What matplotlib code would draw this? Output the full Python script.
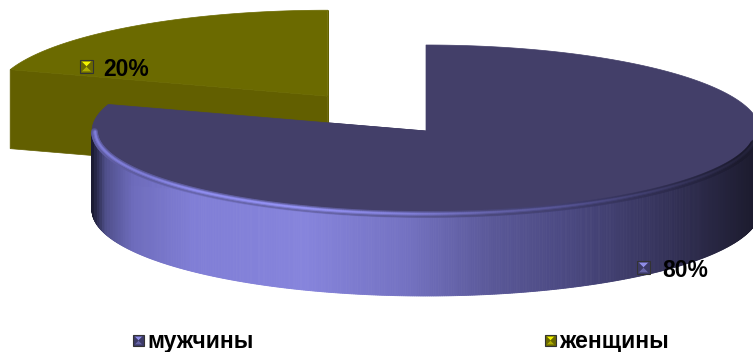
import numpy as np
import matplotlib
matplotlib.use("Agg")
import matplotlib.pyplot as plt
from matplotlib.patches import Polygon
from matplotlib.collections import LineCollection
from matplotlib.colors import LinearSegmentedColormap, to_rgb

# ---- data ----
categories = ["мужчины", "женщины"]
values = [80, 20]
pct_labels = ["80%", "20%"]
explode = [0.0, 0.5]

# ---- style ----
top_colors = ["#433f69", "#6b6a00"]
side_colors = ["#3a375c", "#625f00"]
marker_light = ["#8f8de6", "#f2f200"]
marker_dark = ["#3c3a66", "#6a6800"]

wall_cmap = LinearSegmentedColormap.from_list("wall", [
    (0.00, "#1c1c34"), (0.02, "#50508c"), (0.06, "#6e6cbc"),
    (0.15, "#807ed6"), (0.32, "#8684dc"), (0.47, "#7472c2"),
    (0.60, "#5a5898"), (0.72, "#4a4880"), (0.86, "#35335a"),
    (1.00, "#1b1a2c")])

FONT = "Liberation Sans"

W, H = 753, 352
fig = plt.figure(figsize=(W / 100, H / 100), dpi=100)
ax = fig.add_axes([0, 0, 1, 1])
ax.set_xlim(0, W)
ax.set_ylim(H, 0)
ax.axis("off")

cx, cy = 426.0, 131.0
a, b, h = 334.0, 86.0, 79.0

total = float(sum(values))
fracs = [v / total for v in values]
starts = np.concatenate([[0], np.cumsum(fracs)[:-1]])


def rim(t, ox, oy, dz=0.0):
    return ox + a * np.cos(t), oy - b * np.sin(t) + dz


slices = []
for i, f in enumerate(fracs):
    t1 = np.deg2rad(90 - 360 * starts[i])
    t2 = np.deg2rad(90 - 360 * (starts[i] + f))
    tm = 0.5 * (t1 + t2)
    ox = cx + explode[i] * a * np.cos(tm)
    oy = cy - explode[i] * b * np.sin(tm)
    slices.append((i, t1, t2, ox, oy))

order = sorted(range(len(slices)), key=lambda k: -explode[k])
for k in order:
    i, t1, t2, ox, oy = slices[k]
    for t in (t1, t2):
        rx, ry = rim(t, ox, oy)
        ax.add_patch(Polygon([(ox, oy), (rx, ry), (rx, ry + h), (ox, oy + h)],
                             closed=True, facecolor=side_colors[i],
                             edgecolor=side_colors[i], lw=0.5, zorder=1 + k))
    ts = np.linspace(t2, t1, 900)
    front = ts[np.sin(ts) < 0]
    if len(front) > 1:
        for j in range(len(front) - 1):
            ta, tb = front[j], front[j + 1]
            xa, ya = rim(ta, ox, oy)
            xb, yb = rim(tb, ox, oy)
            u = (0.5 * (xa + xb) - (ox - a)) / (2 * a)
            c = wall_cmap(u) if i == 0 else side_colors[i]
            ax.add_patch(Polygon([(xa, ya), (xb, yb), (xb, yb + h), (xa, ya + h)],
                                 closed=True, facecolor=c, edgecolor=c,
                                 lw=0.6, zorder=2 + k))
    tt = np.linspace(t1, t2, 600)
    xs, ys = rim(tt, ox, oy)
    pts = [(ox, oy)] + list(zip(xs, ys))
    ax.add_patch(Polygon(pts, closed=True, facecolor=top_colors[i],
                         edgecolor=top_colors[i], lw=0.5, zorder=3 + k))
    # bevel highlight along the front rim
    if i == 0 and len(front) > 1:
        for inset, lw, al, boost in [(2.5, 5.0, 0.35, 0.85), (3.0, 2.4, 0.6, 1.0),
                                     (3.2, 1.1, 0.95, 1.12)]:
            fx = ox + (a - inset) * np.cos(front)
            fy = oy - (b - inset) * np.sin(front)
            segs = [[(fx[j], fy[j]), (fx[j + 1], fy[j + 1])] for j in range(len(fx) - 1)]
            cols = []
            for j in range(len(fx) - 1):
                u = (fx[j] - (ox - a)) / (2 * a)
                r, g, bb, _ = wall_cmap(min(max(u, 0.08), 0.97))
                cols.append((min(1, r * boost), min(1, g * boost), min(1, bb * boost), al))
            ax.add_collection(LineCollection(segs, colors=cols, linewidths=lw,
                                             zorder=4 + k, capstyle="round"))


def bevel_square(x0, y0, s, light, dark, z=20):
    x1, y1 = x0 + s, y0 + s
    mx, my = x0 + s / 2, y0 + s / 2
    lr, lg, lb = to_rgb(light)
    dr, dg, db = to_rgb(dark)
    mid = ((lr + dr) / 2, (lg + dg) / 2, (lb + db) / 2)
    ax.add_patch(Polygon([(x0, y0), (x1, y0), (x1, y1), (x0, y1)], closed=True,
                         facecolor=dark, edgecolor="#333333", lw=0.8, zorder=z))
    i = 1.6
    xa, ya, xb, yb = x0 + i, y0 + i, x1 - i, y1 - i
    ax.add_patch(Polygon([(xa, ya), (xb, ya), (mx, my)], closed=True,
                         facecolor=light, lw=0, zorder=z + 1))
    ax.add_patch(Polygon([(xa, yb), (xb, yb), (mx, my)], closed=True,
                         facecolor=mid, lw=0, zorder=z + 1))
    ax.add_patch(Polygon([(xa, ya), (xa, yb), (mx, my)], closed=True,
                         facecolor=dark, lw=0, zorder=z + 1))
    ax.add_patch(Polygon([(xb, ya), (xb, yb), (mx, my)], closed=True,
                         facecolor=dark, lw=0, zorder=z + 1))


label_pos = {0: (637, 261, 662, 277), 1: (80, 60, 103, 76)}
for i in range(len(values)):
    mxp, myp, tx, ty = label_pos[i]
    bevel_square(mxp, myp, 13, marker_light[i], marker_dark[i])
    ax.text(tx, ty, pct_labels[i], fontsize=16.5, fontweight="bold",
            family=FONT, color="black", va="baseline", ha="left", zorder=30)

leg_pos = [(133, 147), (545, 559)]
for i, cat in enumerate(categories):
    mxp, tx = leg_pos[i]
    bevel_square(mxp, 335, 11, marker_light[i], marker_dark[i])
    ax.text(tx, 348, cat, fontsize=16.5, fontweight="bold", family=FONT,
            color="black", va="baseline", ha="left", zorder=30)

fig.savefig("out.png", dpi=100)
